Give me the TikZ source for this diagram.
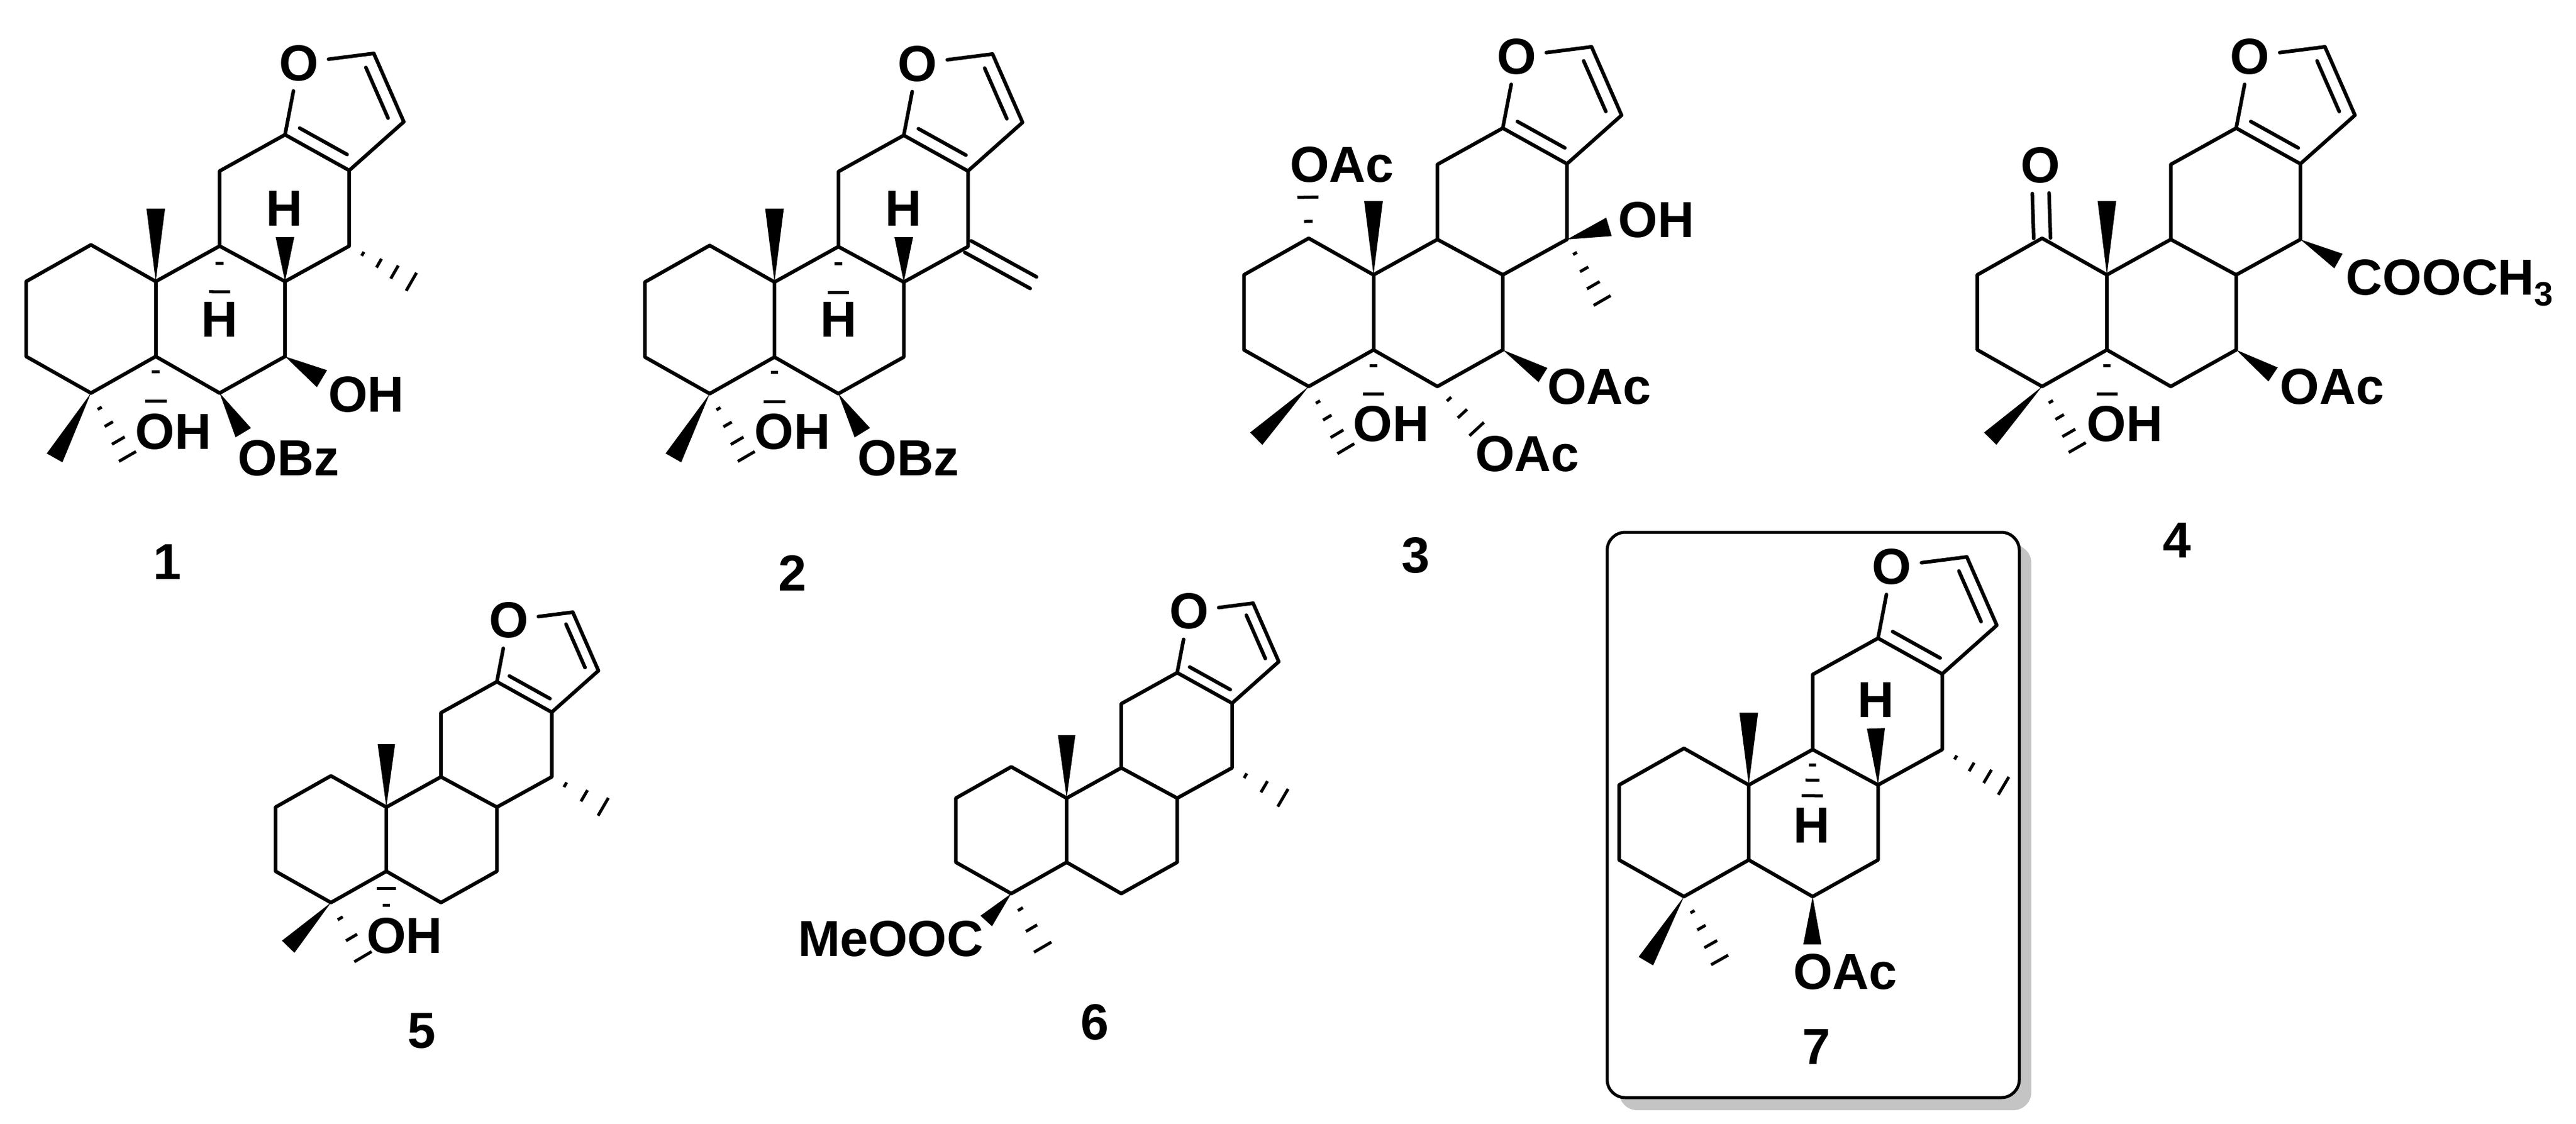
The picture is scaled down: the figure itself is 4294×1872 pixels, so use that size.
\documentclass[tikz,border=0pt]{standalone}
\usepackage{fontspec}
\setmainfont{Liberation Sans}
\usetikzlibrary{calc}
\tikzset{
  bond/.style={line width=.06cm, line join=round, line cap=round},
  hash/.style={line width=.05cm},
  atom/.style={font=\fontsize{24}{28}\selectfont\bfseries, inner sep=0pt},
  hetero/.style={atom, inner sep=.16cm},
  frame/.style={line width=.05cm, rounded corners=.3cm, fill=white},
  frameshadow/.style={fill=black!23, rounded corners=.3cm}
}
\newcommand\dblbond[3]{\draw[bond] ($(#1)!.13!(#2)!#3cm!90:(#2)$) -- ($(#2)!.13!(#1)!#3cm!-90:(#1)$);}
\newcommand\exobond[3]{%
  \draw[bond] ($(#1)!#3!90:(#2)$) -- ($(#2)!#3!-90:(#1)$);
  \draw[bond] ($(#1)!#3!-90:(#2)$) -- ($(#2)!#3!90:(#1)$);}
\newcommand\wedgebond[3]{\fill (#1) -- ($(#2)!#3!90:(#1)$) -- ($(#2)!#3!-90:(#1)$) -- cycle;}
\newcommand\hashbond[4]{\foreach \f in {#3}{%
  \pgfmathsetmacro\hw{\f*#4/2}
  \draw[hash] ($(#1)!\f!(#2)!\hw cm!90:(#2)$) -- ($(#1)!\f!(#2)!\hw cm!-90:(#2)$);}}
% the ring system, placed by the carbon with the axial methyl
\newcommand\skeleton[3]{%
  \begin{scope}[shift={#2},scale=#3]
    \coordinate (#1c1) at (-216,0);
    \coordinate (#1c2) at (-108,-61);
    \coordinate (#1c3) at (-216,125);
    \coordinate (#1c4) at (-108,186);
    \coordinate (#1c5) at (0,125);
    \coordinate (#1c6) at (106.5,186);
    \coordinate (#1c7) at (215.5,125);
    \coordinate (#1c8) at (215.5,0);
    \coordinate (#1c9) at (106.5,-59);
    \coordinate (#1c10) at (0,0);
    \coordinate (#1c11) at (106.5,-184);
    \coordinate (#1c12) at (215.5,-244.5);
    \coordinate (#1c13) at (322.5,-185);
    \coordinate (#1c14) at (322.5,-59);
    \coordinate (#1cf) at (363.5,-380);
    \coordinate (#1cg) at (413.5,-266);
    \node[hetero] (#1o) at (238.5,-364) {O};
  \end{scope}
  \draw[bond] (#1c1) -- (#1c2) -- (#1c10) -- (#1c9) -- (#1c11) -- (#1c12) -- (#1c13) -- (#1c14) -- (#1c8) -- (#1c7) -- (#1c6) -- (#1c5) -- (#1c4) -- (#1c3) -- cycle;
  \draw[bond] (#1c10) -- (#1c5);
  \draw[bond] (#1c9) -- (#1c8);
  \draw[bond] (#1c13) -- (#1cg) -- (#1cf) -- (#1o) -- (#1c12);
  \pgfmathsetmacro\dbloff{.215*#3}
  \dblbond{#1c12}{#1c13}{\dbloff}
  \dblbond{#1cg}{#1cf}{\dbloff}
}
\begin{document}
\begin{tikzpicture}[x=.01cm, y=-.01cm]
\useasboundingbox (0,0) rectangle (4294,1872);

% compound 1
\skeleton{m1}{(259.6,469)}{1}
\node[atom] (m1h8) at (473.5,347.6) {H};
\node[atom] (m1h9) at (366,532.5) {H};
\node[atom] (m1oh5) at (289,719) {OH};
\node[atom] (m1oh7) at (610.3,657) {OH};
\node[atom] (m1obz) at (481,763.4) {OBz};
\node[atom] (m1num) at (279,936) {1};
\coordinate (m1me10) at (259.6,347.6);
\coordinate (m1w8) at (475,395);
\coordinate (m1w7) at (536.7,631);
\coordinate (m1w6) at (405.5,721);
\coordinate (m1me4) at (91,763);
\coordinate (m1e4) at (215,765);
\coordinate (m1e14) at (690,472);
\coordinate (m1e5) at (259.6,672);
\coordinate (m1e9) at (366,490);
\wedgebond{m1c10}{m1me10}{.155cm}
\wedgebond{m1c8}{m1w8}{.155cm}
\wedgebond{m1c7}{m1w7}{.165cm}
\wedgebond{m1c6}{m1w6}{.15cm}
\wedgebond{m1c4}{m1me4}{.15cm}
\hashbond{m1c4}{m1e4}{.23,.47,.72,.96}{.34}
\hashbond{m1c14}{m1e14}{.21,.46,.7,.96}{.36}
\hashbond{m1c5}{m1e5}{.33,.95}{.38}
\hashbond{m1c9}{m1e9}{.36,.95}{.37}

% compound 2
\skeleton{m2}{(1291,470)}{1}
\node[atom] (m2h8) at (1505.5,347.6) {H};
\node[atom] (m2h9) at (1398,532.5) {H};
\node[atom] (m2oh5) at (1321,719) {OH};
\node[atom] (m2obz) at (1514,763) {OBz};
\node[atom] (m2num) at (1321,955) {2};
\coordinate (m2me10) at (1291,347.6);
\coordinate (m2w8) at (1506.5,395);
\coordinate (m2w6) at (1437.4,721);
\coordinate (m2me4) at (1122.5,763);
\coordinate (m2e4) at (1246.5,765);
\coordinate (m2ch2) at (1722.5,471);
\coordinate (m2e5) at (1291,673);
\coordinate (m2e9) at (1397.5,491);
\wedgebond{m2c10}{m2me10}{.155cm}
\wedgebond{m2c8}{m2w8}{.155cm}
\wedgebond{m2c6}{m2w6}{.15cm}
\wedgebond{m2c4}{m2me4}{.15cm}
\hashbond{m2c4}{m2e4}{.23,.47,.72,.96}{.34}
\hashbond{m2c5}{m2e5}{.33,.95}{.38}
\hashbond{m2c9}{m2e9}{.36,.95}{.37}
\exobond{m2c14}{m2ch2}{.11cm}

% compound 3
\skeleton{m3}{(2289.5,458)}{1}
\node[atom] (m3oac2) at (2237,274.6) {OAc};
\node[atom] (m3oh14) at (2760.7,366) {OH};
\node[atom] (m3oac7) at (2666,644) {OAc};
\node[atom] (m3oac6) at (2546,756) {OAc};
\node[atom] (m3oh5) at (2319,706.6) {OH};
\node[atom] (m3num) at (2360,925) {3};
\coordinate (m3me10) at (2289.5,335);
\coordinate (m3e2) at (2180,325);
\coordinate (m3w14) at (2682,378);
\coordinate (m3e14) at (2673,505);
\coordinate (m3w7) at (2572,625);
\coordinate (m3e6) at (2468,722);
\coordinate (m3e5) at (2289.5,659);
\coordinate (m3me4) at (2094,731);
\coordinate (m3e4) at (2246,752);
\wedgebond{m3c10}{m3me10}{.155cm}
\wedgebond{m3c14}{m3w14}{.16cm}
\wedgebond{m3c7}{m3w7}{.14cm}
\wedgebond{m3c4}{m3me4}{.145cm}
\hashbond{m3c2}{m3e2}{.39,.95}{.37}
\hashbond{m3c14}{m3e14}{.22,.47,.72,.96}{.34}
\hashbond{m3c6}{m3e6}{.27,.58,.91}{.36}
\hashbond{m3c5}{m3e5}{.35,.97}{.36}
\hashbond{m3c4}{m3e4}{.24,.48,.73,.96}{.34}

% compound 4
\skeleton{m4}{(3512,458)}{1}
\node[hetero] (m4oxo) at (3401.6,275.5) {O};
\node[atom, anchor=base west] (m4ester) at (3910,491) {COOCH{\fontsize{16}{18}\selectfont\raisebox{-.18cm}{3}}};
\node[atom] (m4oac7) at (3887.6,644) {OAc};
\node[atom] (m4oh5) at (3542,706.6) {OH};
\node[atom] (m4num) at (3628.6,900) {4};
\coordinate (m4me10) at (3512,335);
\coordinate (m4w14) at (3898,435);
\coordinate (m4w7) at (3789,624);
\coordinate (m4e5) at (3512,659);
\coordinate (m4me4) at (3317.5,731);
\coordinate (m4e4) at (3465,750);
\wedgebond{m4c10}{m4me10}{.155cm}
\wedgebond{m4c14}{m4w14}{.14cm}
\wedgebond{m4c7}{m4w7}{.14cm}
\wedgebond{m4c4}{m4me4}{.145cm}
\hashbond{m4c5}{m4e5}{.35,.97}{.36}
\hashbond{m4c4}{m4e4}{.24,.48,.73,.96}{.34}
\exobond{m4c2}{m4oxo.south}{.14cm}

% compound 5
\skeleton{m5}{(644,1345)}{.855}
\node[atom] (m5oh5) at (674.5,1559) {OH};
\node[atom] (m5num) at (702.7,1718) {5};
\coordinate (m5me10) at (644,1240);
\coordinate (m5e14) at (1010,1347);
\coordinate (m5s5) at (644,1527);
\coordinate (m5me4) at (480.4,1577.6);
\coordinate (m5e4) at (609,1601);
\wedgebond{m5c10}{m5me10}{.145cm}
\wedgebond{m5c4}{m5me4}{.145cm}
\hashbond{m5c14}{m5e14}{.25,.6,.95}{.36}
\hashbond{m5s5}{m5c5}{.24,.62}{.53}
\hashbond{m5c4}{m5e4}{.27,.6,.93}{.36}

% compound 6
\skeleton{m6}{(1778,1330)}{.855}
\node[atom] (m6ester) at (1484.8,1564.7) {MeOOC};
\node[atom] (m6num) at (1825,1703) {6};
\coordinate (m6me10) at (1778,1225);
\coordinate (m6e14) at (2143,1332);
\coordinate (m6w4) at (1644,1534.7);
\coordinate (m6e4) at (1742,1585);
\wedgebond{m6c10}{m6me10}{.145cm}
\wedgebond{m6c4}{m6w4}{.13cm}
\hashbond{m6c14}{m6e14}{.25,.6,.95}{.36}
\hashbond{m6c4}{m6e4}{.27,.6,.93}{.36}

% compound 7 in its frame
\fill[frameshadow] (2699,908) rectangle (3386,1850);
\draw[frame] (2679,887) rectangle (3366,1829);
\skeleton{m7}{(2915,1308)}{1}
\node[atom] (m7h8) at (3127,1166) {H};
\node[atom] (m7h9) at (3020,1375) {H};
\node[atom] (m7oac6) at (3076,1619) {OAc};
\node[atom] (m7num) at (3028,1744) {7};
\coordinate (m7me10) at (2915,1187.7);
\coordinate (m7w8) at (3127,1213.8);
\coordinate (m7e9) at (3021,1330);
\coordinate (m7e14) at (3344,1312);
\coordinate (m7w6) at (3021,1573.6);
\coordinate (m7me4) at (2743.5,1601.6);
\coordinate (m7e4) at (2869,1604);
\wedgebond{m7c10}{m7me10}{.155cm}
\wedgebond{m7c8}{m7w8}{.15cm}
\wedgebond{m7c6}{m7w6}{.15cm}
\wedgebond{m7c4}{m7me4}{.14cm}
\hashbond{m7c9}{m7e9}{.32,.63,.95}{.37}
\hashbond{m7c14}{m7e14}{.21,.46,.71,.96}{.36}
\hashbond{m7c4}{m7e4}{.23,.47,.72,.96}{.34}
\end{tikzpicture}
\end{document}
